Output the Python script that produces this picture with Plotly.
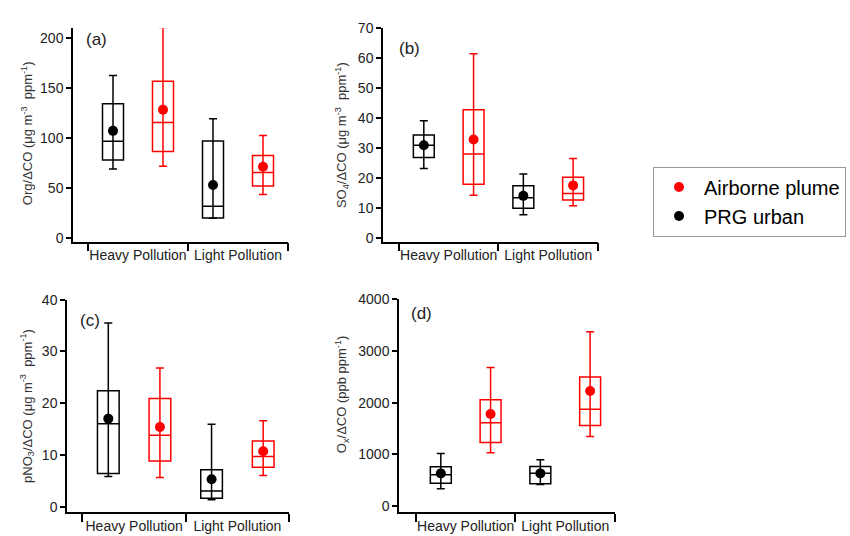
import plotly.graph_objects as go

# ---------------- data ----------------
categories = ["Heavy Pollution", "Light Pollution"]
series_names = ["PRG urban", "Airborne plume"]

# (a) Org/ΔCO
org_prg_low = [69.0, 19.6]
org_prg_q1 = [78.1, 19.9]
org_prg_med = [96.7, 31.7]
org_prg_q3 = [134.3, 97.1]
org_prg_high = [162.7, 119.3]
org_prg_mean = [107.2, 52.9]
org_air_low = [71.6, 43.5]
org_air_q1 = [86.6, 52.0]
org_air_med = [115.7, 65.4]
org_air_q3 = [156.9, 82.4]
org_air_high = [210.8, 102.6]
org_air_mean = [128.4, 71.2]

# (b) SO4/ΔCO
so4_prg_low = [23.1, 7.7]
so4_prg_q1 = [26.8, 9.9]
so4_prg_med = [30.9, 13.4]
so4_prg_q3 = [34.3, 17.4]
so4_prg_high = [39.1, 21.3]
so4_prg_mean = [30.9, 14.0]
so4_air_low = [14.2, 10.7]
so4_air_q1 = [17.9, 12.6]
so4_air_med = [28.0, 14.8]
so4_air_q3 = [42.8, 20.2]
so4_air_high = [61.5, 26.5]
so4_air_mean = [32.8, 17.5]

# (c) pNO3/ΔCO
no3_prg_low = [5.8, 1.3]
no3_prg_q1 = [6.4, 1.6]
no3_prg_med = [16.0, 3.0]
no3_prg_q3 = [22.4, 7.1]
no3_prg_high = [35.5, 15.9]
no3_prg_mean = [17.0, 5.3]
no3_air_low = [5.6, 6.0]
no3_air_q1 = [8.8, 7.6]
no3_air_med = [13.8, 9.7]
no3_air_q3 = [20.9, 12.7]
no3_air_high = [26.8, 16.6]
no3_air_mean = [15.4, 10.7]

# (d) Ox/ΔCO
ox_prg_low = [340, 420]
ox_prg_q1 = [447, 434]
ox_prg_med = [610, 640]
ox_prg_q3 = [761, 767]
ox_prg_high = [1019, 899]
ox_prg_mean = [635, 635]
ox_air_low = [1031, 1346]
ox_air_q1 = [1233, 1560]
ox_air_med = [1610, 1874]
ox_air_q3 = [2057, 2497]
ox_air_high = [2679, 3371]
ox_air_mean = [1780, 2226]

y_titles = [
    "Org/ΔCO (μg m<sup>-3</sup>  ppm<sup>-1</sup>)",
    "SO<sub>4</sub>/ΔCO (μg m<sup>-3</sup>  ppm<sup>-1</sup>)",
    "pNO<sub>3</sub>/ΔCO (μg m<sup>-3</sup>  ppm<sup>-1</sup>)",
    "O<sub>x</sub>/ΔCO (ppb ppm<sup>-1</sup>)",
]
panel_labels = ["(a)", "(b)", "(c)", "(d)"]

# ---------------- layout geometry (pixels) ----------------
W, H = 850, 536
FONT = "Liberation Sans, Arial, sans-serif"
BLACK = "#000000"
RED = "#ff0000"

panels = [
    dict(xd=(73, 288), yd=(20.7, 239), xr=(-0.15, 2.0), yr=(-3.9, 210.1), dt=50),
    dict(xd=(383, 598), yd=(20.7, 239), xr=(-0.16, 2.0), yr=(-1.3, 70), dt=10),
    dict(xd=(67, 289), yd=(298.3, 516), xr=(-0.15, 2.0), yr=(-1.13, 40), dt=10),
    dict(xd=(399, 615), yd=(297.7, 516), xr=(-0.17, 2.0), yr=(-119, 4000), dt=1000),
]
label_pos = [(96, 32), (409, 41), (90, 320), (421, 313)]
ytitle_pos = [(27, 128), (342, 130), (27, 407), (342, 396)]

data_sets = [
    ((org_prg_low, org_prg_q1, org_prg_med, org_prg_q3, org_prg_high, org_prg_mean),
     (org_air_low, org_air_q1, org_air_med, org_air_q3, org_air_high, org_air_mean)),
    ((so4_prg_low, so4_prg_q1, so4_prg_med, so4_prg_q3, so4_prg_high, so4_prg_mean),
     (so4_air_low, so4_air_q1, so4_air_med, so4_air_q3, so4_air_high, so4_air_mean)),
    ((no3_prg_low, no3_prg_q1, no3_prg_med, no3_prg_q3, no3_prg_high, no3_prg_mean),
     (no3_air_low, no3_air_q1, no3_air_med, no3_air_q3, no3_air_high, no3_air_mean)),
    ((ox_prg_low, ox_prg_q1, ox_prg_med, ox_prg_q3, ox_prg_high, ox_prg_mean),
     (ox_air_low, ox_air_q1, ox_air_med, ox_air_q3, ox_air_high, ox_air_mean)),
]

fig = go.Figure()
offsets = [0.25, 0.75]
colors = [BLACK, RED]

for p, (panel, sets) in enumerate(zip(panels, data_sets)):
    sfx = "" if p == 0 else str(p + 1)
    xa, ya = "x" + sfx, "y" + sfx
    for s, stats in enumerate(sets):
        low, q1, med, q3, high, mean = stats
        xs = [i + offsets[s] for i in range(len(categories))]
        fig.add_trace(go.Box(
            x=xs, q1=q1, median=med, q3=q3, lowerfence=q1, upperfence=q3,
            width=0.21, whiskerwidth=0, boxpoints=False,
            line=dict(color=colors[s], width=1.5), fillcolor="rgba(0,0,0,0)",
            showlegend=False, xaxis=xa, yaxis=ya, hoverinfo="skip",
        ))
    for s, stats in enumerate(sets):
        low, q1, med, q3, high, mean = stats
        xs = [i + offsets[s] for i in range(len(categories))]
        fig.add_trace(go.Scatter(
            x=xs, y=mean, mode="markers", cliponaxis=False,
            marker=dict(color=colors[s], size=10),
            error_y=dict(type="data", symmetric=False,
                         array=[h - m for h, m in zip(high, mean)],
                         arrayminus=[m - l for m, l in zip(mean, low)],
                         color=colors[s], thickness=1.5, width=4),
            name=series_names[s], legendrank=2 - s,
            showlegend=(p == 0), xaxis=xa, yaxis=ya,
        ))

    xd, yd = panel["xd"], panel["yd"]
    axis_common = dict(showgrid=False, zeroline=False, showline=True,
                       linecolor=BLACK, linewidth=1.5, ticks="outside",
                       tickcolor=BLACK, tickwidth=1.5,
                       tickfont=dict(family=FONT, size=14, color="#222222"))
    fig.layout["xaxis" + sfx] = dict(
        axis_common, domain=[xd[0] / W, xd[1] / W], range=list(panel["xr"]),
        anchor=ya, tickvals=[i + 0.5 for i in range(len(categories))],
        ticktext=categories, ticklen=0, ticklabelstandoff=0,
        minor=dict(tickvals=list(range(len(categories) + 1)), ticks="outside",
                   ticklen=8, tickwidth=1.5, tickcolor=BLACK),
    )
    fig.layout["yaxis" + sfx] = dict(
        axis_common, domain=[1 - yd[1] / H, 1 - yd[0] / H], range=list(panel["yr"]),
        anchor=xa, dtick=panel["dt"], tick0=0, ticklen=5,
    )
    fig.add_annotation(x=label_pos[p][0] / W, y=1 - label_pos[p][1] / H,
                       xref="paper", yref="paper", text=panel_labels[p],
                       xanchor="center", yanchor="middle",
                       showarrow=False, font=dict(family=FONT, size=17, color="#222222"))
    fig.add_annotation(x=ytitle_pos[p][0] / W, y=1 - ytitle_pos[p][1] / H,
                       xref="paper", yref="paper", text=y_titles[p], textangle=-90,
                       xanchor="center", yanchor="middle",
                       showarrow=False, font=dict(family=FONT, size=13, color="#333333"))

fig.update_layout(
    width=W, height=H, margin=dict(l=0, r=0, t=0, b=0),
    paper_bgcolor="white", plot_bgcolor="white", boxmode="overlay",
    legend=dict(x=653 / W, y=1 - 198 / H, xanchor="left", yanchor="middle",
                bordercolor="#999999", borderwidth=1,
                font=dict(family=FONT, size=20, color="#000000"),
                itemwidth=40, tracegroupgap=0),
)

fig.write_html("out.html")
